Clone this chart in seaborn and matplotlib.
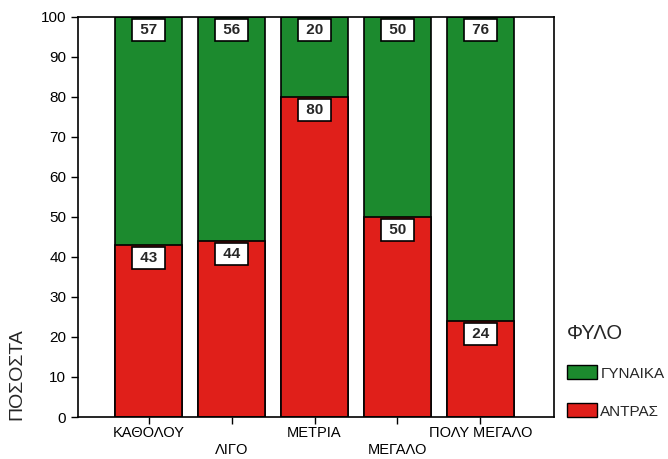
import numpy as np
import pandas as pd
import matplotlib
matplotlib.use("Agg")
import matplotlib.pyplot as plt
from matplotlib.patches import Patch
import seaborn as sns

# data
categories = ["ΚΑΘΟΛΟΥ", "ΛΙΓΟ", "ΜΕΤΡΙΑ", "ΜΕΓΑΛΟ", "ΠΟΛΥ ΜΕΓΑΛΟ"]
men_pct = [43, 44, 80, 50, 24]
women_pct = [57, 56, 20, 50, 76]
y_ticks = [0, 10, 20, 30, 40, 50, 60, 70, 80, 90, 100]

sns.set_style("ticks")
plt.rcParams["font.family"] = ["Liberation Sans", "DejaVu Sans"]

GREEN = "#1c8a2e"
RED = "#e01f1a"

df = pd.DataFrame({"cat": categories, "men": men_pct, "women": women_pct})
df["total"] = df["men"] + df["women"]

fig = plt.figure(figsize=(6.68, 4.59), dpi=100)
ax = fig.add_axes([0.117, 0.0915, 0.712, 0.872])

# stacked bars: full-height green, red overlaid from the bottom
sns.barplot(data=df, x="cat", y="total", color=GREEN, saturation=1,
            width=0.81, edgecolor="black", linewidth=1.2, ax=ax)
sns.barplot(data=df, x="cat", y="men", color=RED, saturation=1,
            width=0.81, edgecolor="black", linewidth=1.2, ax=ax)

# value boxes just under the top of each segment
box = dict(boxstyle="square,pad=0.25", fc="white", ec="black", lw=1.2)
for i, row in df.iterrows():
    ax.text(i, row["total"] - 3.3, f" {row['women']} ", ha="center", va="center",
            fontsize=11, fontweight="bold", bbox=box)
    ax.text(i, row["men"] - 3.3, f" {row['men']} ", ha="center", va="center",
            fontsize=11, fontweight="bold", bbox=box)

ax.set_xlim(-0.85, 4.885)
ax.set_ylim(0, 100)
ax.set_yticks(y_ticks)
ax.set_yticklabels([str(t) for t in y_ticks], fontsize=11)
ax.set_xticks(range(len(categories)))
# staggered category labels
ax.set_xticklabels([c if i % 2 == 0 else "\n" + c for i, c in enumerate(categories)],
                   fontsize=10.5, linespacing=1.3)
ax.set_xlabel("")
ax.set_ylabel("")
ax.tick_params(axis="both", direction="out", length=5, width=1, colors="black")
ax.tick_params(axis="x", pad=1.5)
for s in ax.spines.values():
    s.set_linewidth(1.2)
    s.set_color("black")

fig.text(0.026, 1 - 374 / 459, "ΠΟΣΟΣΤΑ", rotation=90, fontsize=14,
         ha="center", va="center")

handles = [Patch(facecolor=GREEN, edgecolor="black", label="ΓΥΝΑΙΚΑ"),
           Patch(facecolor=RED, edgecolor="black", label="ΑΝΤΡΑΣ")]
leg = fig.legend(handles=handles, title="ΦΥΛΟ", loc="upper left",
                 bbox_to_anchor=(0.828, 0.325), frameon=False, fontsize=11,
                 title_fontsize=14.5, handlelength=2.0, handleheight=1.0,
                 labelspacing=1.5, handletextpad=0.2, alignment="left")

fig.savefig("out.png", dpi=100)
